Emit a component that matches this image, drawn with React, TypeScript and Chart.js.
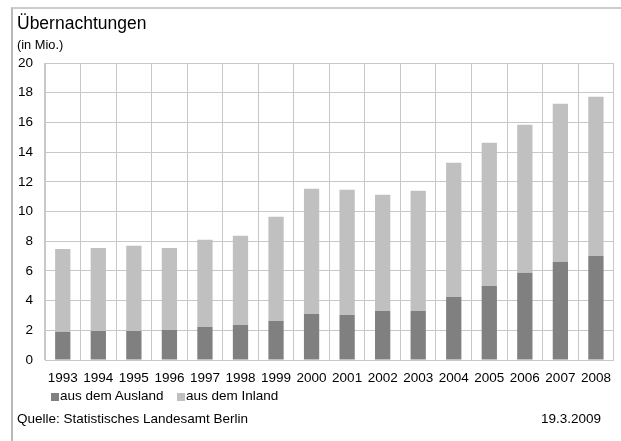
import React, { useEffect, useRef } from "react";
import { Chart, registerables } from "chart.js";

Chart.register(...registerables);

const years = ["1993", "1994", "1995", "1996", "1997", "1998", "1999", "2000", "2001", "2002", "2003", "2004", "2005", "2006", "2007", "2008"];
const ausland = [1.91, 1.95, 1.95, 2.02, 2.22, 2.36, 2.63, 3.1, 3.03, 3.3, 3.3, 4.25, 4.99, 5.87, 6.61, 7.01];
const inland = [5.57, 5.6, 5.74, 5.53, 5.87, 6.0, 7.01, 8.43, 8.43, 7.83, 8.1, 9.03, 9.64, 9.98, 10.65, 10.72];
const seriesLabels = ["aus dem Ausland", "aus dem Inland"];
const seriesColors = ["#808080", "#c0c0c0"];
const titleText = "Übernachtungen";
const unitText = "(in Mio.)";
const sourceText = "Quelle: Statistisches Landesamt Berlin";
const dateText = "19.3.2009";

const FONT = "'Liberation Sans', Arial, Helvetica, sans-serif";

export default function App() {
  const canvasRef = useRef<HTMLCanvasElement | null>(null);

  useEffect(() => {
    if (!canvasRef.current) return;
    const chart = new Chart(canvasRef.current, {
      type: "bar",
      data: {
        labels: years,
        datasets: [
          { label: seriesLabels[0], data: ausland, backgroundColor: seriesColors[0], borderWidth: 0, barPercentage: 0.43, categoryPercentage: 1 },
          { label: seriesLabels[1], data: inland, backgroundColor: seriesColors[1], borderWidth: 0, barPercentage: 0.43, categoryPercentage: 1 },
        ],
      },
      options: {
        animation: false,
        responsive: false,
        maintainAspectRatio: false,
        layout: { padding: { left: 0, right: 2, top: 63, bottom: 0 } },
        plugins: {
          legend: { display: false },
          tooltip: { enabled: false },
          title: { display: false },
        },
        scales: {
          x: {
            stacked: true,
            offset: true,
            grid: { offset: true, color: "#c8c8c8", lineWidth: 1, drawTicks: false },
            border: { color: "#c8c8c8" },
            ticks: { color: "#000", font: { family: FONT, size: 13.5 }, padding: 10, maxRotation: 0, autoSkip: false },
            afterFit: (s: any) => { s.height = 81; },
          },
          y: {
            stacked: true,
            min: 0,
            max: 20,
            grid: { color: "#c8c8c8", lineWidth: 1, drawTicks: false },
            border: { color: "#c8c8c8" },
            ticks: { stepSize: 2, color: "#000", font: { family: FONT, size: 13.5 }, padding: 12 },
            afterFit: (s: any) => { s.width = 45; },
          },
        },
      },
    });
    return () => chart.destroy();
  }, []);

  const txt = (extra: React.CSSProperties): React.CSSProperties => ({
    position: "absolute",
    fontFamily: FONT,
    color: "#000",
    whiteSpace: "nowrap",
    margin: 0,
    ...extra,
  });

  const legendLefts = [51, 177];

  return (
    <div style={{ position: "fixed", left: 0, top: 0, width: 621, height: 441, background: "#fff", overflow: "hidden" }}>
      <div style={{ position: "absolute", left: 11, top: 7, width: 610, height: 434, borderTop: "2px solid #cccccc", borderLeft: "2px solid #b8b8b8", boxSizing: "border-box" }} />
      <canvas ref={canvasRef} width={621} height={441} style={{ position: "absolute", left: 0, top: 0, width: 621, height: 441 }} />
      <div style={txt({ left: 17, top: 15.2, fontSize: 17.5, lineHeight: "17.5px" })}>{titleText}</div>
      <div style={txt({ left: 17, top: 38.5, fontSize: 12.8, lineHeight: "12.8px" })}>{unitText}</div>
      {seriesLabels.map((l, i) => (
        <div key={l} style={{ position: "absolute", left: legendLefts[i], top: 388.6, height: 14, display: "flex", alignItems: "flex-start" }}>
          <span style={{ display: "inline-block", width: 8, height: 8, background: seriesColors[i], marginTop: 4.5, marginRight: 1 }} />
          <span style={{ fontFamily: FONT, fontSize: 13.5, lineHeight: "13.5px", color: "#000", whiteSpace: "nowrap" }}>{l}</span>
        </div>
      ))}
      <div style={txt({ left: 17, top: 411.6, fontSize: 13.5, lineHeight: "13.5px" })}>{sourceText}</div>
      <div style={txt({ right: 20, top: 411.6, fontSize: 13.5, lineHeight: "13.5px" })}>{dateText}</div>
    </div>
  );
}
